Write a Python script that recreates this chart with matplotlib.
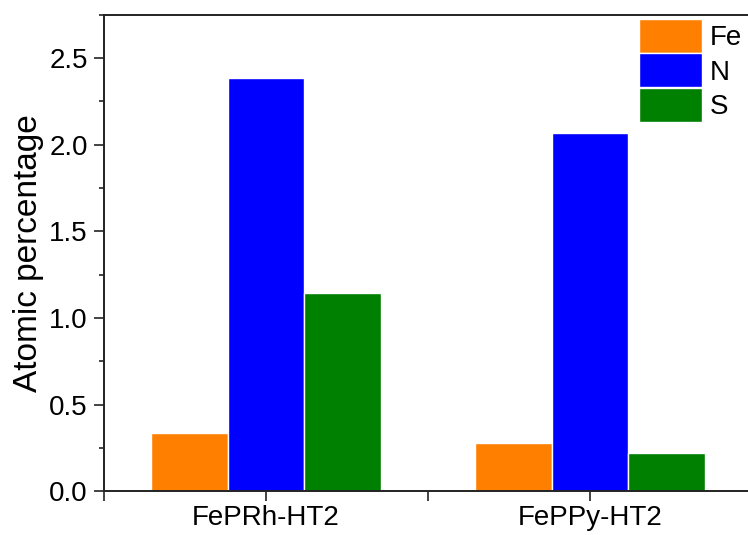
import numpy as np
import matplotlib.pyplot as plt
from matplotlib.ticker import MultipleLocator

plt.rcParams["font.family"] = ["Liberation Sans", "DejaVu Sans"]

# 样品与元素含量
samples = ["FePRh-HT2", "FePPy-HT2"]
elements = ["Fe", "N", "S"]
fe_vals = [0.338, 0.280]
n_vals = [2.382, 2.068]
s_vals = [1.142, 0.219]
colors = ["#ff8000", "#0000ff", "#008000"]

fig = plt.figure(figsize=(7.48, 5.35), dpi=100)
ax = fig.add_axes([104 / 748, 43.7 / 535, 648 / 748, 476.6 / 535])

x = np.arange(1, len(samples) + 1)
w = 0.236
for i, (vals, c, lab) in enumerate(zip([fe_vals, n_vals, s_vals], colors, elements)):
    ax.bar(x + (i - 1) * w, vals, width=w, color=c, edgecolor="white",
           linewidth=1.0, label=lab)

ax.set_xlim(0.5, 2.5)
ax.set_ylim(0, 2.75)
ax.set_xticks(x)
ax.set_xticklabels(samples)
ax.xaxis.set_minor_locator(MultipleLocator(0.5))
ax.yaxis.set_major_locator(MultipleLocator(0.5))
ax.yaxis.set_minor_locator(MultipleLocator(0.25))
ax.set_ylabel("Atomic percentage", fontsize=24, labelpad=4)

ax.tick_params(axis="both", which="major", direction="out", length=7.2,
               width=1.2, labelsize=20, color="#222222")
ax.tick_params(axis="y", which="major", pad=4.5)
ax.tick_params(axis="x", which="major", pad=3)
ax.tick_params(axis="y", which="minor", direction="out", length=3.6,
               width=1.2, color="#222222")
ax.tick_params(axis="x", which="minor", direction="out", length=7.2,
               width=1.2, color="#222222")

for side in ["left", "bottom", "top"]:
    ax.spines[side].set_linewidth(1.4)
    ax.spines[side].set_color("#222222")
ax.spines["right"].set_visible(False)

leg = ax.legend(loc="upper left", bbox_to_anchor=(639 / 748, 1 - 19 / 535),
                bbox_transform=fig.transFigure, frameon=False, fontsize=20,
                handlelength=2.27, handleheight=1.5, labelspacing=0.02,
                handletextpad=0.29, borderpad=0, borderaxespad=0)

fig.savefig("out.png", dpi=100)
